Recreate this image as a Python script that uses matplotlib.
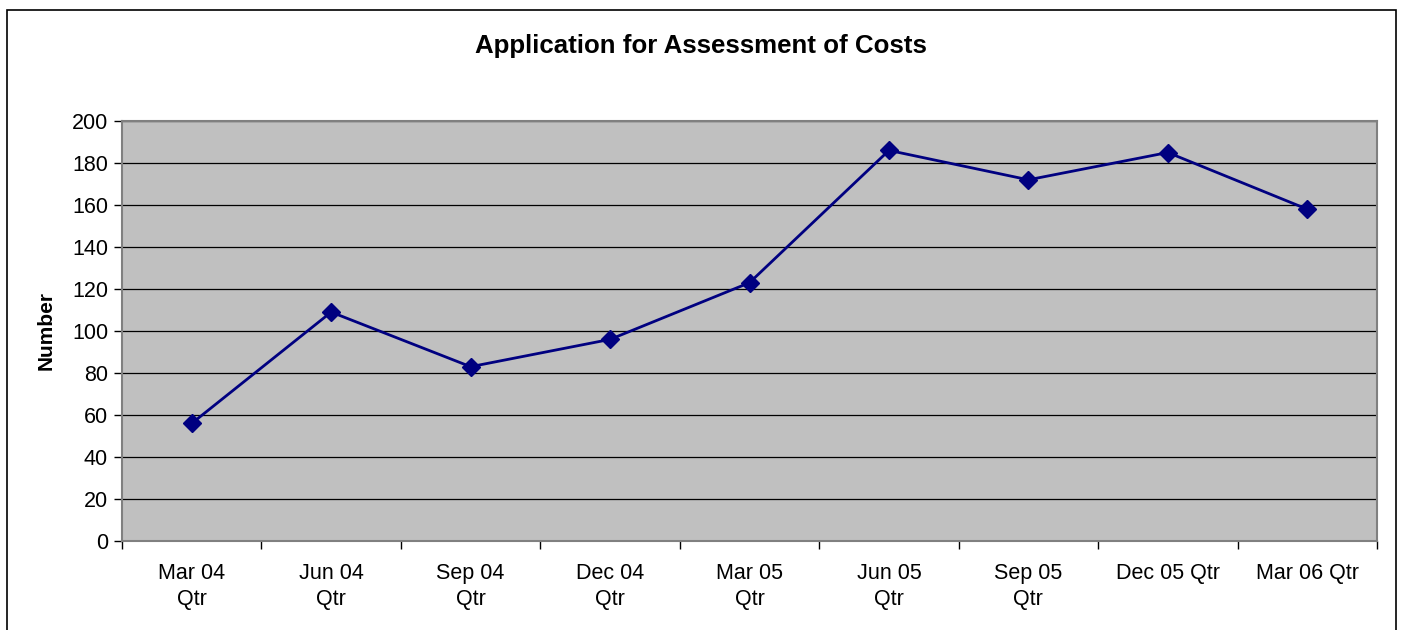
import matplotlib
matplotlib.use("Agg")
import matplotlib.pyplot as plt
from matplotlib.patches import Rectangle

plt.rcParams['font.family'] = ['Liberation Sans', 'DejaVu Sans']

quarters = ["Mar 04\nQtr", "Jun 04\nQtr", "Sep 04\nQtr", "Dec 04\nQtr", "Mar 05\nQtr",
            "Jun 05\nQtr", "Sep 05\nQtr", "Dec 05 Qtr", "Mar 06 Qtr"]
counts = [56, 109, 83, 96, 123, 186, 172, 185, 158]

fig = plt.figure(figsize=(14.01, 6.3), dpi=100)
ax = fig.add_axes([122/1401, 89/630, 1255/1401, 420/630])
ax.set_facecolor('#C0C0C0')

x = list(range(len(counts)))
ax.plot(x, counts, color='#000080', linewidth=2, marker='D', markersize=9.5,
        markerfacecolor='#000080', markeredgecolor='#000080', zorder=3)

ax.set_xlim(-0.5, len(counts) - 0.5)
ax.set_ylim(0, 200)
ax.set_yticks(range(0, 201, 20))
ax.yaxis.grid(True, color='black', linewidth=0.9)
ax.set_axisbelow(True)

ax.set_xticks(x)
ax.set_xticklabels(quarters, fontsize=15.5, linespacing=1.3)
ax.set_xticks([i - 0.5 for i in range(len(counts) + 1)], minor=True)
ax.tick_params(axis='x', which='major', length=0, pad=16)
ax.tick_params(axis='x', which='minor', length=6, width=1, color='black')
ax.tick_params(axis='y', length=6, width=1, labelsize=15.5, pad=4)

for s in ['top', 'right', 'left', 'bottom']:
    ax.spines[s].set_color('#808080')
    ax.spines[s].set_linewidth(1.5)

ax.set_ylabel("Number", fontsize=15, fontweight='bold', labelpad=12)
fig.text(0.5, 1 - 46/630, "Application for Assessment of Costs", ha='center', va='center',
         fontsize=18.6, fontweight='bold')

fig.patches.append(Rectangle((7/1401, -0.05), 1389/1401, 1.05 - 10/630, transform=fig.transFigure,
                             fill=False, edgecolor='black', linewidth=1.2))

fig.savefig("out.png", dpi=100)
